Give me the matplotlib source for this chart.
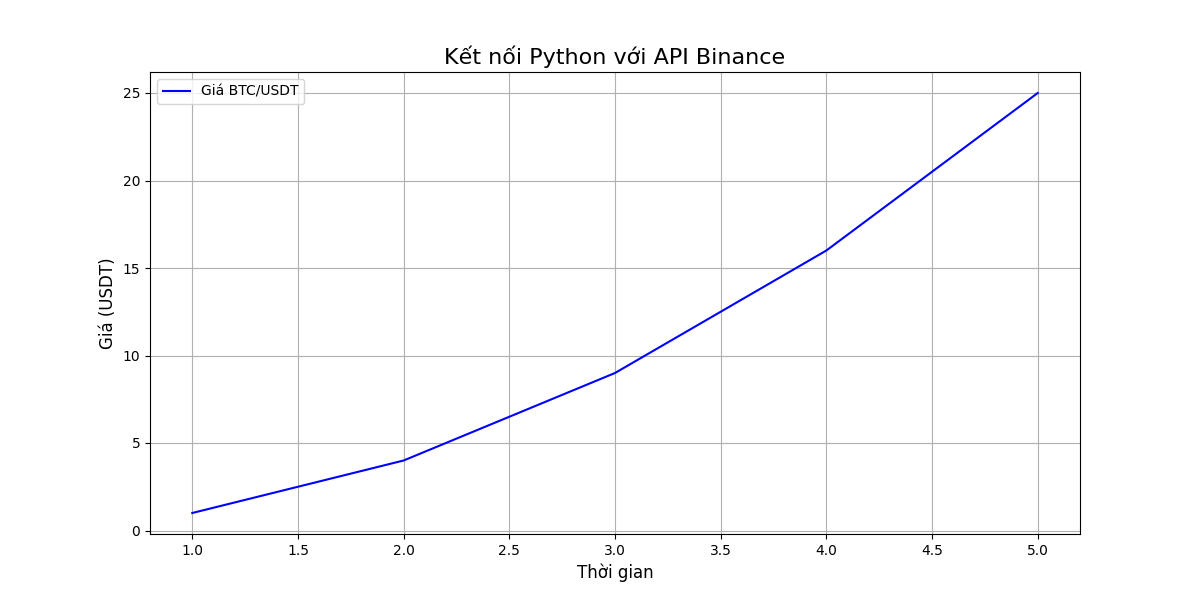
import matplotlib
matplotlib.use("Agg")
import matplotlib.pyplot as plt

# Data
thoi_gian = [1, 2, 3, 4, 5]
gia = [1, 4, 9, 16, 25]

fig, ax = plt.subplots(figsize=(12, 6), dpi=100)
ax.plot(thoi_gian, gia, color="blue", label="Giá BTC/USDT")
ax.set_title("Kết nối Python với API Binance", fontsize=16)
ax.set_xlabel("Thời gian", fontsize=12)
ax.set_ylabel("Giá (USDT)", fontsize=12)
ax.grid(True)
ax.legend(loc="upper left")
plt.savefig("out.png")
